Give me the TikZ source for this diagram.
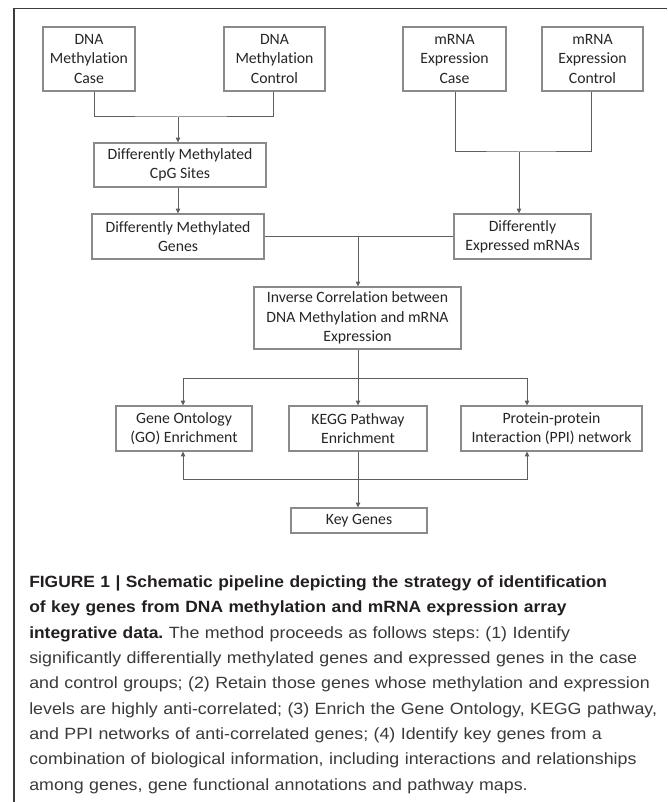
\documentclass[tikz,border=0pt]{standalone}
\usepackage{fontspec}
\setmainfont[Ligatures=NoCommon,RawFeature={-clig}]{Carlito}
\newfontfamily\capfont[FakeStretch=1.095]{Liberation Sans}
\newfontfamily\capboldfont[FakeStretch=1.07]{Liberation Sans}
\usetikzlibrary{arrows.meta,calc}
\definecolor{boxline}{HTML}{8A8A8A}
\definecolor{connline}{HTML}{5E5E5E}
\definecolor{boxtext}{HTML}{262626}
\definecolor{frameline}{HTML}{3C3C3C}
\definecolor{capbold}{HTML}{231F20}
\definecolor{captext}{HTML}{3A3A3A}
\tikzset{
  box/.style={draw=boxline, line width=0.8pt, inner sep=0pt, align=center,
    text=boxtext, font=\fontsize{11.8pt}{14.5pt}\selectfont},
  conn/.style={draw=connline, line width=0.75pt},
  arr/.style={conn, -{Triangle[length=3.6pt,width=3.2pt]}},
  biarr/.style={conn, {Triangle[length=3.6pt,width=3.2pt]}-{Triangle[length=3.6pt,width=3.2pt]}},
  frame/.style={draw=frameline, line width=1.1pt}
}
\begin{document}
\frenchspacing
\begin{tikzpicture}[x=0.75pt,y=-0.75pt]
\useasboundingbox (0,0) rectangle (667,802);
\fill[white] (0,0) rectangle (667,802);
\draw[frame] (14,802) -- (14,8.5) -- (667,8.5);

% boxes
\node[box, minimum width=69pt, minimum height=48pt] (dmcase) at (89,59) {DNA\\Methylation\\Case};
\node[box, minimum width=75.75pt, minimum height=48pt] (dmctrl) at (274.5,59) {DNA\\Methylation\\Control};
\node[box, minimum width=77.25pt, minimum height=48pt] (mcase) at (454.5,59) {mRNA\\Expression\\Case};
\node[box, minimum width=75.75pt, minimum height=48pt] (mctrl) at (592.5,59) {mRNA\\Expression\\Control};
\node[box, minimum width=129pt, minimum height=33pt] (cpg) at (180,165) {Differently Methylated\\CpG Sites};
\node[box, minimum width=129pt, minimum height=33.75pt] (dmg) at (178,236.5) {Differently Methylated\\Genes};
\node[box, minimum width=102.75pt, minimum height=33.75pt] (dem) at (522.5,236.5) {Differently\\Expressed mRNAs};
\node[box, minimum width=155.25pt, minimum height=46.5pt] (inv) at (357.5,318) {Inverse Correlation between\\DNA Methylation and mRNA\\Expression};
\node[box, minimum width=102pt, minimum height=33.75pt] (go) at (184,428.5) {Gene Ontology\\(GO) Enrichment};
\node[box, minimum width=103.5pt, minimum height=33.75pt] (kegg) at (358,428.5) {KEGG Pathway\\Enrichment};
\node[box, minimum width=135.75pt, minimum height=33.75pt] (ppi) at (551.5,428.5) {Protein-protein\\Interaction (PPI) network};
\node[box, minimum width=102pt, minimum height=18.75pt] (key) at (359,520.5) {Key Genes};

% junctions
\coordinate (m1) at (178,117);
\coordinate (m2) at (519,152);
\coordinate (m3) at (358,236.5);
\coordinate (m4) at (358,378);
\coordinate (b1) at (183,378);
\coordinate (b2) at (527,378);
\coordinate (c1) at (183,479);
\coordinate (c2) at (527,479);

% connectors
\draw[conn] ($(dmcase.south)+(5,0)$) |- (m1) -| ($(dmctrl.south)+(-1.5,0)$);
\draw[arr] (m1) -- (cpg.north -| m1);
\draw[arr] (cpg.south -| m1) -- (dmg.north -| m1);
\draw[conn] ($(mcase.south)+(0.5,0)$) |- (m2) -| ($(mctrl.south)+(-1.5,0)$);
\draw[arr] (m2) -- (dem.north -| m2);
\draw[conn] (dmg.east) -- (dem.west);
\draw[arr] (m3) -- (inv.north -| m3);
\draw[conn] (inv.south -| m4) -- (m4);
\draw[conn] (b1) -- (b2);
\draw[arr] (b1) -- (go.north -| b1);
\draw[arr] (m4) -- (kegg.north -| m4);
\draw[arr] (b2) -- (ppi.north -| b2);
\draw[biarr] (go.south -| c1) -- (c1) -- (c2) -- (ppi.south -| c2);
\draw[arr] (kegg.south) -- (key.north -| kegg.south);

% caption
\node[anchor=north west, inner sep=0pt, text width=500pt, align=left,
  text=captext, font=\capfont\fontsize{12.2pt}{18.98pt}\selectfont] (cap) at (29,575.5)
{{\capboldfont\bfseries\color{capbold}FIGURE 1 | Schematic pipeline depicting the strategy of identification\\
of key genes from DNA methylation and mRNA expression array\\
integrative data.} The method proceeds as follows steps: (1) Identify\\
significantly differentially methylated genes and expressed genes in the case\\
and control groups; (2) Retain those genes whose methylation and expression\\
levels are highly anti-correlated; (3) Enrich the Gene Ontology, KEGG pathway,\\
and PPI networks of anti-correlated genes; (4) Identify key genes from a\\
combination of biological information, including interactions and relationships\\
among genes, gene functional annotations and pathway maps.};
\end{tikzpicture}
\end{document}
